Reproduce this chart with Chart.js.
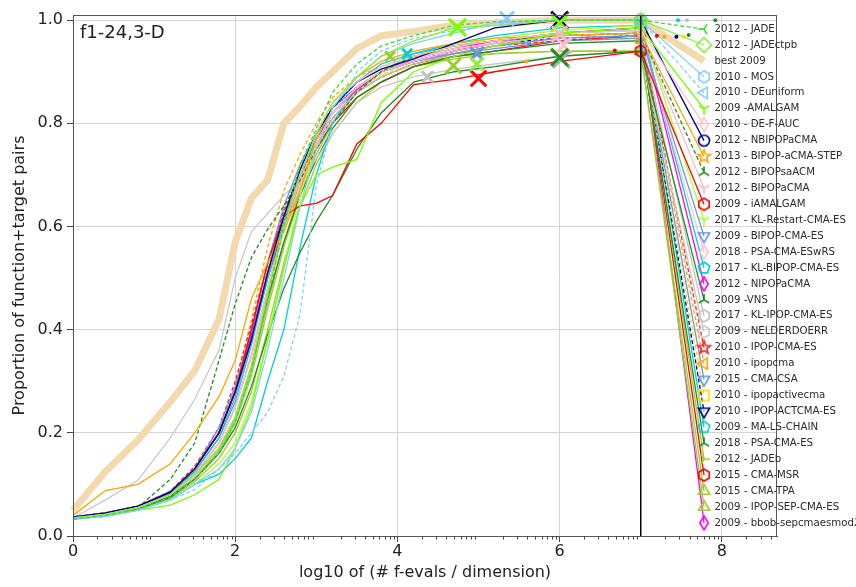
<!DOCTYPE html>
<html>
<head>
<meta charset="utf-8">
<title>f1-24,3-D</title>
<script src="https://cdn.jsdelivr.net/npm/chart.js@4.4.0/dist/chart.umd.min.js"></script>
<style>
  html, body { margin: 0; padding: 0; background: #fff; }
  #wrap { width: 856px; height: 587px; }
</style>
</head>
<body>
<div id="wrap"><canvas id="ecdfChart" width="856" height="587"></canvas></div>
<script>
// shared x grid: log10 of (# f-evals / dimension)
const evals = [0, 0.4, 0.8, 1.2, 1.5, 1.8, 2.0, 2.2, 2.4, 2.6, 2.8, 3.0, 3.2, 3.5, 3.8, 4.2, 4.7, 5.2, 6.0, 7.0];

// proportion of function+target pairs, one array per algorithm
const ecdfJade        = [0.033, 0.040, 0.052, 0.075, 0.110, 0.160, 0.220, 0.320, 0.460, 0.600, 0.720, 0.790, 0.860, 0.915, 0.950, 0.970, 0.990, 0.997, 1.000, 1.000];
const ecdfJadeCtpb    = [0.035, 0.042, 0.055, 0.080, 0.120, 0.170, 0.230, 0.330, 0.470, 0.600, 0.700, 0.780, 0.840, 0.890, 0.930, 0.960, 0.985, 0.990, 1.000, 1.000];
const ecdfBest2009    = [0.050, 0.125, 0.186, 0.260, 0.320, 0.420, 0.570, 0.655, 0.690, 0.800, 0.833, 0.870, 0.900, 0.945, 0.970, 0.978, 0.990, 0.995, 1.000, 1.000];
const ecdfMos         = [0.033, 0.038, 0.050, 0.070, 0.100, 0.130, 0.170, 0.240, 0.360, 0.500, 0.640, 0.750, 0.830, 0.890, 0.930, 0.955, 0.975, 0.995, 1.000, 1.000];
const ecdfDeUniform   = [0.033, 0.038, 0.050, 0.070, 0.090, 0.130, 0.160, 0.200, 0.240, 0.310, 0.430, 0.680, 0.800, 0.900, 0.940, 0.965, 0.980, 0.990, 1.000, 1.000];
const ecdfAmalgam     = [0.033, 0.040, 0.050, 0.060, 0.080, 0.110, 0.170, 0.250, 0.380, 0.520, 0.640, 0.700, 0.715, 0.730, 0.840, 0.900, 0.930, 0.950, 0.975, 0.985];
const ecdfDeFAuc      = [0.035, 0.042, 0.055, 0.080, 0.115, 0.170, 0.230, 0.330, 0.470, 0.600, 0.700, 0.780, 0.840, 0.880, 0.910, 0.930, 0.950, 0.960, 0.975, 0.980];
const ecdfNbipopaCma  = [0.037, 0.045, 0.058, 0.085, 0.130, 0.200, 0.280, 0.380, 0.510, 0.620, 0.710, 0.780, 0.830, 0.880, 0.905, 0.925, 0.955, 0.985, 1.000, 1.000];
const ecdfBipopStep   = [0.040, 0.088, 0.100, 0.140, 0.200, 0.270, 0.340, 0.460, 0.530, 0.590, 0.670, 0.770, 0.830, 0.890, 0.920, 0.940, 0.955, 0.965, 0.970, 0.975];
const ecdfBipopSaAcm  = [0.033, 0.040, 0.055, 0.110, 0.180, 0.340, 0.450, 0.540, 0.595, 0.640, 0.690, 0.750, 0.800, 0.860, 0.900, 0.930, 0.950, 0.960, 0.970, 0.975];
const ecdfBipopaCma   = [0.035, 0.042, 0.055, 0.080, 0.120, 0.180, 0.250, 0.350, 0.480, 0.600, 0.690, 0.760, 0.820, 0.870, 0.900, 0.920, 0.940, 0.955, 0.970, 0.975];
const ecdfIamalgam    = [0.035, 0.042, 0.056, 0.085, 0.130, 0.200, 0.280, 0.400, 0.530, 0.620, 0.640, 0.645, 0.660, 0.760, 0.800, 0.875, 0.885, 0.900, 0.920, 0.940];
const ecdfKlRestart   = [0.033, 0.040, 0.050, 0.070, 0.100, 0.140, 0.180, 0.260, 0.380, 0.520, 0.660, 0.760, 0.820, 0.870, 0.900, 0.930, 0.950, 0.965, 0.980, 0.990];
const ecdfBipopCmaEs  = [0.037, 0.045, 0.058, 0.087, 0.130, 0.210, 0.290, 0.400, 0.530, 0.640, 0.720, 0.780, 0.830, 0.870, 0.900, 0.920, 0.935, 0.950, 0.965, 0.970];
const ecdfPsaWrs      = [0.035, 0.042, 0.055, 0.080, 0.120, 0.180, 0.250, 0.350, 0.480, 0.590, 0.680, 0.760, 0.820, 0.870, 0.900, 0.925, 0.945, 0.955, 0.970, 0.975];
const ecdfKlBipop     = [0.035, 0.043, 0.056, 0.083, 0.125, 0.190, 0.260, 0.370, 0.500, 0.610, 0.700, 0.770, 0.830, 0.880, 0.915, 0.935, 0.955, 0.970, 0.985, 0.990];
const ecdfNipopaCma   = [0.036, 0.044, 0.057, 0.085, 0.130, 0.200, 0.280, 0.390, 0.510, 0.620, 0.700, 0.770, 0.820, 0.865, 0.900, 0.920, 0.940, 0.955, 0.975, 0.985];
const ecdfVns         = [0.033, 0.040, 0.052, 0.075, 0.110, 0.160, 0.210, 0.290, 0.390, 0.480, 0.550, 0.610, 0.660, 0.750, 0.820, 0.880, 0.900, 0.910, 0.930, 0.940];
const ecdfKlIpop      = [0.035, 0.042, 0.055, 0.080, 0.120, 0.180, 0.250, 0.350, 0.480, 0.590, 0.680, 0.750, 0.810, 0.860, 0.890, 0.915, 0.935, 0.950, 0.965, 0.970];
const ecdfNelderDoerr = [0.035, 0.070, 0.108, 0.190, 0.265, 0.360, 0.500, 0.590, 0.625, 0.660, 0.690, 0.730, 0.780, 0.840, 0.870, 0.890, 0.905, 0.915, 0.930, 0.940];
const ecdfIpopCmaEs   = [0.037, 0.045, 0.058, 0.087, 0.135, 0.210, 0.300, 0.410, 0.530, 0.630, 0.700, 0.760, 0.810, 0.860, 0.890, 0.915, 0.935, 0.950, 0.960, 0.970];
const ecdfIpopcma     = [0.037, 0.045, 0.058, 0.085, 0.130, 0.200, 0.290, 0.420, 0.560, 0.670, 0.740, 0.800, 0.850, 0.890, 0.910, 0.930, 0.950, 0.960, 0.970, 0.975];
const ecdfCmaCsa      = [0.035, 0.043, 0.056, 0.083, 0.125, 0.190, 0.270, 0.380, 0.510, 0.620, 0.700, 0.770, 0.820, 0.870, 0.900, 0.920, 0.935, 0.945, 0.960, 0.965];
const ecdfIpopActive  = [0.036, 0.044, 0.057, 0.085, 0.130, 0.200, 0.280, 0.390, 0.520, 0.630, 0.710, 0.770, 0.820, 0.865, 0.895, 0.915, 0.935, 0.950, 0.960, 0.965];
const ecdfIpopActCma  = [0.036, 0.044, 0.057, 0.086, 0.130, 0.200, 0.280, 0.390, 0.520, 0.630, 0.710, 0.780, 0.830, 0.870, 0.900, 0.920, 0.940, 0.955, 0.965, 0.970];
const ecdfMaLsChain   = [0.033, 0.038, 0.050, 0.070, 0.100, 0.120, 0.150, 0.190, 0.300, 0.400, 0.560, 0.700, 0.800, 0.870, 0.900, 0.935, 0.950, 0.960, 0.975, 0.980];
const ecdfPsaCmaEs    = [0.034, 0.041, 0.053, 0.078, 0.115, 0.170, 0.230, 0.330, 0.460, 0.570, 0.660, 0.730, 0.790, 0.850, 0.880, 0.910, 0.930, 0.940, 0.955, 0.960];
const ecdfJadeB       = [0.033, 0.040, 0.052, 0.075, 0.110, 0.160, 0.220, 0.310, 0.440, 0.560, 0.660, 0.740, 0.800, 0.860, 0.900, 0.930, 0.945, 0.955, 0.970, 0.975];
const ecdfCmaMsr      = [0.036, 0.044, 0.057, 0.085, 0.130, 0.200, 0.280, 0.380, 0.500, 0.600, 0.680, 0.750, 0.800, 0.850, 0.880, 0.910, 0.930, 0.940, 0.960, 0.970];
const ecdfCmaTpa      = [0.034, 0.041, 0.053, 0.077, 0.110, 0.165, 0.225, 0.320, 0.450, 0.570, 0.670, 0.750, 0.810, 0.860, 0.890, 0.915, 0.930, 0.935, 0.940, 0.940];
const ecdfIpopSep     = [0.033, 0.040, 0.051, 0.073, 0.105, 0.150, 0.200, 0.280, 0.400, 0.530, 0.640, 0.720, 0.780, 0.840, 0.880, 0.910, 0.925, 0.935, 0.940, 0.940];
const ecdfSepMod2     = [0.035, 0.043, 0.055, 0.080, 0.120, 0.180, 0.250, 0.350, 0.480, 0.600, 0.690, 0.760, 0.820, 0.870, 0.900, 0.925, 0.945, 0.960, 0.975, 0.985];

const algNames = [
    '2012 - JADE', '2012 - JADEctpb', 'best 2009', '2010 - MOS', '2010 - DEuniform',
    '2009 -AMALGAM', '2010 - DE-F-AUC', '2012 - NBIPOPaCMA', '2013 - BIPOP-aCMA-STEP',
    '2012 - BIPOPsaACM', '2012 - BIPOPaCMA', '2009 - iAMALGAM', '2017 - KL-Restart-CMA-ES',
    '2009 - BIPOP-CMA-ES', '2018 - PSA-CMA-ESwRS', '2017 - KL-BIPOP-CMA-ES', '2012 - NIPOPaCMA',
    '2009 -VNS', '2017 - KL-IPOP-CMA-ES', '2009 - NELDERDOERR', '2010 - IPOP-CMA-ES',
    '2010 - ipopcma', '2015 - CMA-CSA', '2010 - ipopactivecma', '2010 - IPOP-ACTCMA-ES',
    '2009 - MA-LS-CHAIN', '2018 - PSA-CMA-ES', '2012 - JADEb', '2015 - CMA-MSR',
    '2015 - CMA-TPA', '2009 - IPOP-SEP-CMA-ES', '2009 - bbob-sepcmaesmod2'
];
const algValues = [
    ecdfJade, ecdfJadeCtpb, ecdfBest2009, ecdfMos, ecdfDeUniform,
    ecdfAmalgam, ecdfDeFAuc, ecdfNbipopaCma, ecdfBipopStep,
    ecdfBipopSaAcm, ecdfBipopaCma, ecdfIamalgam, ecdfKlRestart,
    ecdfBipopCmaEs, ecdfPsaWrs, ecdfKlBipop, ecdfNipopaCma,
    ecdfVns, ecdfKlIpop, ecdfNelderDoerr, ecdfIpopCmaEs,
    ecdfIpopcma, ecdfCmaCsa, ecdfIpopActive, ecdfIpopActCma,
    ecdfMaLsChain, ecdfPsaCmaEs, ecdfJadeB, ecdfCmaMsr,
    ecdfCmaTpa, ecdfIpopSep, ecdfSepMod2
];

// large "x" marks (budget crosses)
const crossX = [4.74, 5.35, 6.0, 6.0, 6.0, 6.05, 6.02, 6.0, 4.69, 4.98, 5.0, 4.12, 3.91, 4.37, 4.98];
const crossY = [0.986, 1.003, 1.0, 0.995, 0.973, 0.951, 0.924, 0.928, 0.912, 0.935, 0.887, 0.935, 0.930, 0.890, 0.915];
const crossColors = ['#7cfc00', '#87cefa', '#000080', '#7cfc00', '#ffb6c1', '#ffc0cb', '#aaaaaa', '#228b22',
                     '#9acd32', '#6495ed', '#ff0000', '#00ced1', '#9acd32', '#c0c0c0', '#90ee40'];
const crossSizes = [12, 10, 12, 12, 11, 11, 12, 12, 11, 9, 11, 7, 7, 8, 9];

// small dots (median markers)
const dotX = [7.46, 7.57, 7.92, 7.20, 7.29, 7.44, 7.53, 7.59, 6.68, 5.59];
const dotY = [1.0, 1.0, 1.0, 0.970, 0.968, 0.968, 0.968, 0.971, 0.941, 0.920];
const dotColors = ['#00ced1', '#c0c0c0', '#228b22', '#ff0000', '#ffa500', '#000080', '#ffd700', '#228b22', '#ff0000', '#ffa500'];

const xTickValues = [0, 2, 4, 6, 8];
const yTickValues = [0, 0.2, 0.4, 0.6, 0.8, 1.0];

// line look per algorithm (same order as algNames)
const seriesStyle = [
    { color: '#3ed63e', dash: true,  marker: 'tri_left' },
    { color: '#86ef3a', dash: false, marker: 'diamond' },
    { color: '#f3d9ad', dash: false, marker: null },
    { color: '#87cefa', dash: false, marker: 'hexagon' },
    { color: '#87cefa', dash: true,  marker: 'triangle_left' },
    { color: '#7cfc00', dash: false, marker: 'tri_down' },
    { color: '#ffc0cb', dash: false, marker: 'thin_diamond' },
    { color: '#000080', dash: false, marker: 'circle' },
    { color: '#ffa500', dash: false, marker: 'star' },
    { color: '#228b22', dash: true,  marker: 'tri_up' },
    { color: '#ffb6c1', dash: false, marker: 'tri_down' },
    { color: '#ff0000', dash: false, marker: 'hexagon' },
    { color: '#adff2f', dash: false, marker: 'tri_down' },
    { color: '#6495ed', dash: false, marker: 'triangle_down' },
    { color: '#ffc0cb', dash: false, marker: 'thin_diamond' },
    { color: '#00ced1', dash: false, marker: 'pentagon' },
    { color: '#ff00ff', dash: false, marker: 'thin_diamond' },
    { color: '#228b22', dash: false, marker: 'tri_up' },
    { color: '#c0c0c0', dash: false, marker: 'hexagon' },
    { color: '#c8c8c8', dash: false, marker: 'hexagon' },
    { color: '#ff2020', dash: true,  marker: 'star' },
    { color: '#ffa500', dash: true,  marker: 'triangle_left' },
    { color: '#6495ed', dash: false, marker: 'triangle_down' },
    { color: '#ffd700', dash: true,  marker: 'square' },
    { color: '#000080', dash: true,  marker: 'triangle_down' },
    { color: '#00ced1', dash: false, marker: 'pentagon' },
    { color: '#228b22', dash: false, marker: 'tri_up' },
    { color: '#9acd32', dash: false, marker: 'tri_right' },
    { color: '#ff0000', dash: false, marker: 'hexagon' },
    { color: '#9acd32', dash: false, marker: 'triangle_up' },
    { color: '#9acd32', dash: false, marker: 'triangle_up' },
    { color: '#ff00ff', dash: false, marker: 'thin_diamond' }
];

// legend layout (data units)
const LEGEND_MARK_X = 7.78;
const LEGEND_TEXT_X = 7.91;
const LEGEND_TOP = 0.9827;
const LEGEND_STEP = 0.03088;

/**
 * Build a hollow matplotlib-like marker as a small canvas
 */
function makeMarker(shape, color) {
    const size = 20, c = size / 2, r = 6;
    const cv = document.createElement('canvas');
    cv.width = size;
    cv.height = size;
    const g = cv.getContext('2d');
    g.strokeStyle = color;
    g.lineWidth = 1.6;
    g.beginPath();

    const poly = (n, rr, rot, sx) => {
        for (let k = 0; k < n; k++) {
            const a = rot + k * 2 * Math.PI / n;
            const px = c + (sx || 1) * rr * Math.cos(a);
            const py = c + rr * Math.sin(a);
            if (k === 0) g.moveTo(px, py); else g.lineTo(px, py);
        }
        g.closePath();
    };
    const arms = (angles) => {
        angles.forEach(a => {
            g.moveTo(c, c);
            g.lineTo(c + r * Math.cos(a), c + r * Math.sin(a));
        });
    };

    switch (shape) {
        case 'hexagon': poly(6, r, -Math.PI / 2); break;
        case 'pentagon': poly(5, r, -Math.PI / 2); break;
        case 'diamond': poly(4, r + 1.5, -Math.PI / 2); break;
        case 'thin_diamond': poly(4, r + 1, -Math.PI / 2, 0.6); break;
        case 'circle': g.arc(c, c, r - 0.5, 0, 2 * Math.PI); break;
        case 'square': g.rect(c - r + 1, c - r + 1, 2 * r - 2, 2 * r - 2); break;
        case 'triangle_up': poly(3, r + 0.5, -Math.PI / 2); break;
        case 'triangle_down': poly(3, r + 0.5, Math.PI / 2); break;
        case 'triangle_left': poly(3, r + 0.5, Math.PI); break;
        case 'star':
            for (let k = 0; k < 10; k++) {
                const a = -Math.PI / 2 + k * Math.PI / 5;
                const rr = k % 2 === 0 ? r + 0.8 : (r + 0.8) * 0.42;
                const px = c + rr * Math.cos(a), py = c + rr * Math.sin(a);
                if (k === 0) g.moveTo(px, py); else g.lineTo(px, py);
            }
            g.closePath();
            break;
        case 'tri_down': arms([Math.PI / 2, -Math.PI / 6, -5 * Math.PI / 6]); break;
        case 'tri_up': arms([-Math.PI / 2, Math.PI / 6, 5 * Math.PI / 6]); break;
        case 'tri_left': arms([Math.PI, Math.PI / 3, -Math.PI / 3]); break;
        case 'tri_right': arms([0, 2 * Math.PI / 3, -2 * Math.PI / 3]); break;
    }
    g.stroke();
    return cv;
}

function legendY(i) {
    return LEGEND_TOP - LEGEND_STEP * i;
}

// Extra drawing: frame, x=7 line, minor ticks, panel label and legend text
const decorPlugin = {
    id: 'decor',
    afterDatasetsDraw(chart) {
        const { ctx, chartArea: a, scales } = chart;
        const xs = scales.x, ys = scales.y;
        ctx.save();

        // vertical line at the maximum budget
        ctx.strokeStyle = '#000';
        ctx.lineWidth = 1.5;
        ctx.beginPath();
        ctx.moveTo(xs.getPixelForValue(7), a.top);
        ctx.lineTo(xs.getPixelForValue(7), a.bottom);
        ctx.stroke();

        // frame
        ctx.strokeStyle = '#555';
        ctx.lineWidth = 1;
        ctx.strokeRect(a.left + 0.5, a.top + 0.5, a.right - a.left - 1, a.bottom - a.top);

        // minor ticks on the x axis at log positions
        ctx.strokeStyle = '#444';
        ctx.beginPath();
        for (let k = 0; k <= 8; k++) {
            for (let m = 2; m <= 9; m++) {
                const v = k + Math.log10(m);
                if (v > xs.max) continue;
                const px = Math.round(xs.getPixelForValue(v)) + 0.5;
                ctx.moveTo(px, a.bottom);
                ctx.lineTo(px, a.bottom + 3.5);
            }
        }
        ctx.stroke();

        // panel label
        ctx.fillStyle = '#222';
        ctx.font = '18px "DejaVu Sans"';
        ctx.textBaseline = 'middle';
        ctx.textAlign = 'left';
        ctx.fillText('f1-24,3-D', a.left + 7, a.top + 18);

        // legend labels
        ctx.fillStyle = '#2a2a2a';
        ctx.font = '10.2px "DejaVu Sans"';
        const tx = xs.getPixelForValue(LEGEND_TEXT_X);
        algNames.forEach((name, i) => {
            ctx.fillText(name, tx, ys.getPixelForValue(legendY(i)));
        });
        ctx.restore();
    }
};

document.addEventListener('DOMContentLoaded', function() {
    const datasets = [];
    const last = evals.length - 1;

    algNames.forEach((name, i) => {
        const style = seriesStyle[i];
        const values = algValues[i];
        const points = evals.map((x, k) => ({ x: x, y: values[k] }));
        points.push({ x: LEGEND_MARK_X, y: legendY(i) });
        const isBest = name === 'best 2009';
        const markerImg = style.marker ? makeMarker(style.marker, style.color) : 'circle';

        datasets.push({
            label: name,
            data: points,
            borderColor: style.color,
            backgroundColor: style.color,
            borderWidth: isBest ? 7 : 1.3,
            borderDash: style.dash ? [4, 2.5] : [],
            borderCapStyle: 'butt',
            pointStyle: markerImg,
            pointRadius: (c) => (!isBest && c.dataIndex >= last) ? 6 : 0,
            pointHoverRadius: 0,
            tension: 0,
            clip: false,
            order: isBest ? 10 : 0
        });
    });

    datasets.push({
        label: 'crosses',
        data: crossX.map((x, k) => ({ x: x, y: crossY[k] })),
        showLine: false,
        pointStyle: 'crossRot',
        pointRadius: crossSizes,
        borderColor: crossColors,
        pointBorderWidth: 3,
        clip: false,
        order: -2
    });

    datasets.push({
        label: 'dots',
        data: dotX.map((x, k) => ({ x: x, y: dotY[k] })),
        showLine: false,
        pointStyle: 'circle',
        pointRadius: 2,
        backgroundColor: dotColors,
        borderColor: dotColors,
        borderWidth: 0,
        clip: false,
        order: -1
    });

    const tickFont = { family: 'DejaVu Sans', size: 16 };

    new Chart(document.getElementById('ecdfChart'), {
        type: 'line',
        data: { datasets: datasets },
        options: {
            responsive: false,
            animation: false,
            events: [],
            layout: { padding: { left: 0, right: 79, top: 11, bottom: 0 } },
            plugins: {
                legend: { display: false },
                tooltip: { enabled: false }
            },
            scales: {
                x: {
                    type: 'linear',
                    min: 0,
                    max: 8.68,
                    afterBuildTicks: (s) => { s.ticks = xTickValues.map(v => ({ value: v })); },
                    afterFit: (s) => { s.height = 51; },
                    grid: { color: '#d4d4d4', lineWidth: 1, tickColor: '#444', tickLength: 6 },
                    border: { color: '#555' },
                    ticks: { font: tickFont, color: '#222', padding: 0, maxRotation: 0 },
                    title: {
                        display: true,
                        text: 'log10 of (# f-evals / dimension)',
                        font: tickFont,
                        color: '#222',
                        padding: { top: 0, bottom: 5 }
                    }
                },
                y: {
                    type: 'linear',
                    min: 0,
                    max: 1.01,
                    afterBuildTicks: (s) => { s.ticks = yTickValues.map(v => ({ value: v })); },
                    afterFit: (s) => { s.width = 73; },
                    grid: { color: '#d4d4d4', lineWidth: 1, tickColor: '#444', tickLength: 6 },
                    border: { color: '#555' },
                    ticks: { font: tickFont, color: '#222', padding: 4, callback: (v) => v.toFixed(1) },
                    title: {
                        display: true,
                        text: 'Proportion of function+target pairs',
                        font: tickFont,
                        color: '#222',
                        padding: { top: 10, bottom: 0 }
                    }
                }
            }
        },
        plugins: [decorPlugin]
    });
});
</script>
</body>
</html>
